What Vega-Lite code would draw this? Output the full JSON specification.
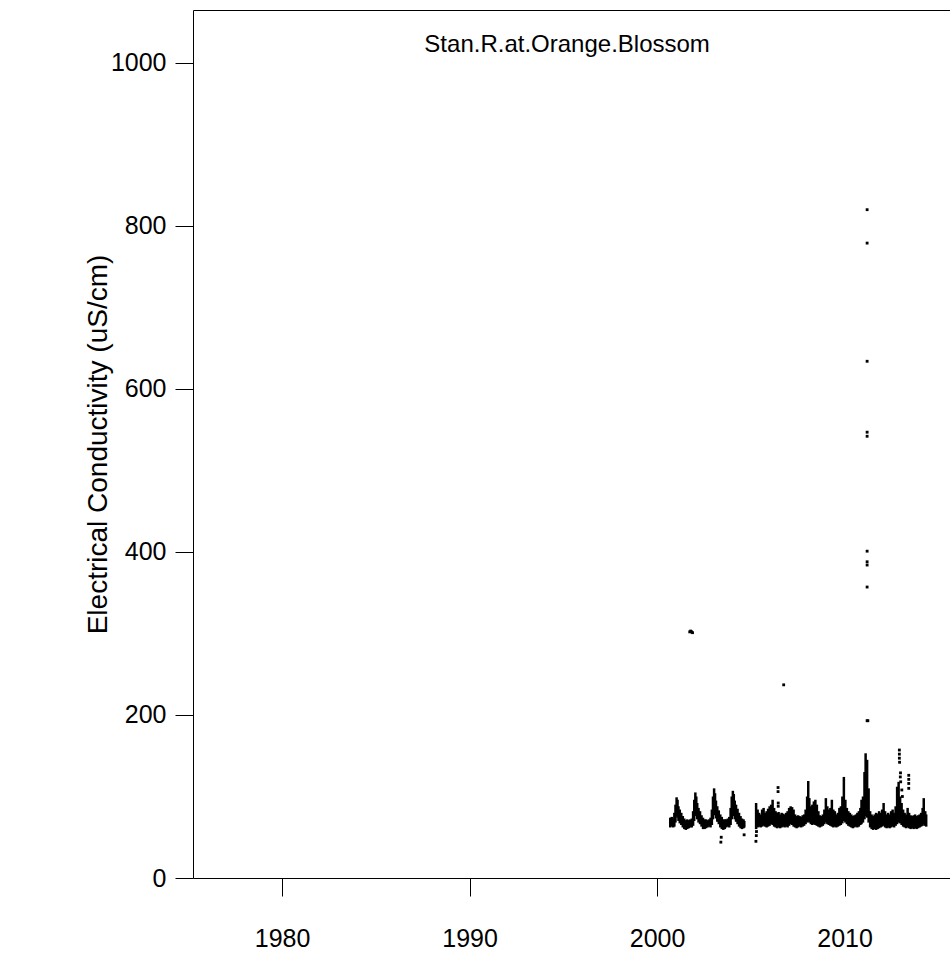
{
  "$schema": "https://vega.github.io/schema/vega-lite/v6.json",
  "autosize": {"type": "none"},
  "width": 757,
  "height": 868,
  "padding": {"left": 193, "top": 10, "right": 0, "bottom": 78},
  "background": "white",
  "config": {"view": {"stroke": null}, "font": "Liberation Sans"},
  "datasets": {
    "band": [
      {"t":2000.70,"lo":62,"hi":74},{"t":2000.78,"lo":63,"hi":75},{"t":2000.86,"lo":62,"hi":73},{"t":2000.92,"lo":63,"hi":80},
      {"t":2000.98,"lo":68,"hi":90},{"t":2001.04,"lo":76,"hi":99},{"t":2001.09,"lo":74,"hi":96},{"t":2001.14,"lo":70,"hi":88},
      {"t":2001.21,"lo":67,"hi":84},{"t":2001.29,"lo":65,"hi":80},{"t":2001.37,"lo":62,"hi":76},{"t":2001.45,"lo":60,"hi":73},
      {"t":2001.53,"lo":59,"hi":71},{"t":2001.61,"lo":60,"hi":72},{"t":2001.69,"lo":61,"hi":71},{"t":2001.77,"lo":62,"hi":72},
      {"t":2001.85,"lo":62,"hi":73},{"t":2001.92,"lo":64,"hi":82},{"t":2001.98,"lo":70,"hi":96},{"t":2002.04,"lo":78,"hi":105},
      {"t":2002.09,"lo":76,"hi":100},{"t":2002.14,"lo":72,"hi":92},{"t":2002.21,"lo":68,"hi":86},{"t":2002.29,"lo":66,"hi":82},
      {"t":2002.37,"lo":63,"hi":77},{"t":2002.45,"lo":60,"hi":74},{"t":2002.53,"lo":60,"hi":72},{"t":2002.61,"lo":61,"hi":72},
      {"t":2002.69,"lo":62,"hi":71},{"t":2002.77,"lo":63,"hi":72},{"t":2002.85,"lo":62,"hi":74},{"t":2002.92,"lo":65,"hi":84},
      {"t":2002.98,"lo":72,"hi":100},{"t":2003.04,"lo":80,"hi":110},{"t":2003.09,"lo":77,"hi":104},{"t":2003.14,"lo":73,"hi":95},
      {"t":2003.21,"lo":69,"hi":88},{"t":2003.29,"lo":66,"hi":83},{"t":2003.37,"lo":62,"hi":78},{"t":2003.45,"lo":60,"hi":75},
      {"t":2003.53,"lo":59,"hi":72},{"t":2003.61,"lo":60,"hi":72},{"t":2003.69,"lo":62,"hi":72},{"t":2003.77,"lo":63,"hi":73},
      {"t":2003.85,"lo":62,"hi":75},{"t":2003.92,"lo":65,"hi":86},{"t":2003.98,"lo":72,"hi":100},{"t":2004.04,"lo":79,"hi":107},
      {"t":2004.09,"lo":76,"hi":103},{"t":2004.14,"lo":72,"hi":95},{"t":2004.21,"lo":69,"hi":90},{"t":2004.29,"lo":66,"hi":85},
      {"t":2004.37,"lo":63,"hi":80},{"t":2004.45,"lo":61,"hi":76},{"t":2004.53,"lo":60,"hi":73},{"t":2004.61,"lo":61,"hi":72},
      {"t":2004.65,"lo":62,"hi":70},
      {"t":2005.28,"lo":60,"hi":92},{"t":2005.36,"lo":62,"hi":84},{"t":2005.44,"lo":63,"hi":80},{"t":2005.52,"lo":62,"hi":78},
      {"t":2005.60,"lo":63,"hi":84},{"t":2005.68,"lo":64,"hi":86},{"t":2005.76,"lo":63,"hi":80},{"t":2005.84,"lo":62,"hi":82},
      {"t":2005.92,"lo":63,"hi":85},{"t":2006.00,"lo":64,"hi":88},{"t":2006.08,"lo":66,"hi":90},{"t":2006.16,"lo":65,"hi":96},
      {"t":2006.24,"lo":63,"hi":86},{"t":2006.32,"lo":62,"hi":82},{"t":2006.40,"lo":61,"hi":80},{"t":2006.48,"lo":62,"hi":81},
      {"t":2006.56,"lo":61,"hi":78},{"t":2006.64,"lo":62,"hi":80},{"t":2006.72,"lo":63,"hi":79},{"t":2006.80,"lo":62,"hi":78},
      {"t":2006.88,"lo":63,"hi":80},{"t":2006.96,"lo":62,"hi":82},{"t":2007.04,"lo":64,"hi":86},{"t":2007.12,"lo":66,"hi":88},
      {"t":2007.20,"lo":65,"hi":87},{"t":2007.28,"lo":63,"hi":84},{"t":2007.36,"lo":62,"hi":78},{"t":2007.44,"lo":61,"hi":76},
      {"t":2007.52,"lo":62,"hi":77},{"t":2007.60,"lo":63,"hi":76},{"t":2007.68,"lo":62,"hi":75},{"t":2007.76,"lo":63,"hi":77},
      {"t":2007.84,"lo":64,"hi":78},{"t":2007.92,"lo":66,"hi":84},{"t":2008.00,"lo":68,"hi":100},{"t":2008.06,"lo":70,"hi":119},
      {"t":2008.12,"lo":68,"hi":98},{"t":2008.20,"lo":66,"hi":88},{"t":2008.28,"lo":65,"hi":90},{"t":2008.36,"lo":66,"hi":94},
      {"t":2008.44,"lo":65,"hi":96},{"t":2008.52,"lo":64,"hi":90},{"t":2008.60,"lo":63,"hi":82},{"t":2008.68,"lo":62,"hi":77},
      {"t":2008.76,"lo":63,"hi":76},{"t":2008.84,"lo":64,"hi":78},{"t":2008.92,"lo":66,"hi":84},{"t":2009.00,"lo":68,"hi":98},
      {"t":2009.08,"lo":66,"hi":88},{"t":2009.16,"lo":65,"hi":84},{"t":2009.24,"lo":64,"hi":86},{"t":2009.32,"lo":63,"hi":96},
      {"t":2009.40,"lo":62,"hi":84},{"t":2009.48,"lo":63,"hi":82},{"t":2009.56,"lo":62,"hi":78},{"t":2009.64,"lo":63,"hi":80},
      {"t":2009.72,"lo":64,"hi":86},{"t":2009.80,"lo":65,"hi":88},{"t":2009.88,"lo":67,"hi":100},{"t":2009.96,"lo":70,"hi":124},
      {"t":2010.04,"lo":68,"hi":96},{"t":2010.12,"lo":66,"hi":86},{"t":2010.20,"lo":64,"hi":82},{"t":2010.28,"lo":63,"hi":80},
      {"t":2010.36,"lo":62,"hi":78},{"t":2010.44,"lo":61,"hi":76},{"t":2010.52,"lo":62,"hi":77},{"t":2010.60,"lo":63,"hi":78},
      {"t":2010.68,"lo":62,"hi":80},{"t":2010.76,"lo":63,"hi":82},{"t":2010.84,"lo":65,"hi":86},{"t":2010.90,"lo":66,"hi":96},
      {"t":2010.98,"lo":68,"hi":100},{"t":2011.06,"lo":72,"hi":130},{"t":2011.12,"lo":76,"hi":153},{"t":2011.20,"lo":74,"hi":145},
      {"t":2011.28,"lo":68,"hi":110},{"t":2011.36,"lo":62,"hi":82},{"t":2011.44,"lo":60,"hi":78},{"t":2011.52,"lo":59,"hi":76},
      {"t":2011.60,"lo":60,"hi":78},{"t":2011.68,"lo":59,"hi":80},{"t":2011.76,"lo":60,"hi":79},{"t":2011.84,"lo":61,"hi":82},
      {"t":2011.92,"lo":62,"hi":80},{"t":2012.00,"lo":63,"hi":84},{"t":2012.08,"lo":64,"hi":92},{"t":2012.16,"lo":62,"hi":82},
      {"t":2012.24,"lo":61,"hi":78},{"t":2012.32,"lo":62,"hi":80},{"t":2012.40,"lo":61,"hi":78},{"t":2012.48,"lo":62,"hi":82},
      {"t":2012.56,"lo":63,"hi":84},{"t":2012.64,"lo":62,"hi":80},{"t":2012.72,"lo":64,"hi":88},{"t":2012.80,"lo":66,"hi":112},
      {"t":2012.88,"lo":68,"hi":118},{"t":2012.96,"lo":67,"hi":100},{"t":2013.04,"lo":65,"hi":92},{"t":2013.12,"lo":63,"hi":84},
      {"t":2013.20,"lo":62,"hi":80},{"t":2013.28,"lo":61,"hi":78},{"t":2013.36,"lo":62,"hi":86},{"t":2013.44,"lo":61,"hi":80},
      {"t":2013.52,"lo":60,"hi":77},{"t":2013.60,"lo":61,"hi":76},{"t":2013.68,"lo":60,"hi":77},{"t":2013.76,"lo":61,"hi":78},
      {"t":2013.84,"lo":60,"hi":76},{"t":2013.92,"lo":61,"hi":77},{"t":2014.00,"lo":62,"hi":78},{"t":2014.08,"lo":63,"hi":80},
      {"t":2014.16,"lo":64,"hi":86},{"t":2014.22,"lo":66,"hi":98},{"t":2014.30,"lo":64,"hi":82},{"t":2014.35,"lo":63,"hi":78}
    ],
    "spikes": [
      {"t":2001.74,"v":302},{"t":2001.79,"v":303},{"t":2001.84,"v":302},{"t":2001.89,"v":301},
      {"t":2003.40,"v":44},{"t":2003.42,"v":50},{"t":2004.64,"v":53},
      {"t":2005.27,"v":45},{"t":2005.29,"v":52},{"t":2005.30,"v":57},
      {"t":2006.45,"v":111},{"t":2006.45,"v":106},{"t":2006.46,"v":92},{"t":2006.46,"v":88},
      {"t":2006.75,"v":237},
      {"t":2011.20,"v":820},{"t":2011.20,"v":779},{"t":2011.20,"v":634},{"t":2011.20,"v":547},{"t":2011.20,"v":542},
      {"t":2011.20,"v":401},{"t":2011.20,"v":388},{"t":2011.20,"v":384},{"t":2011.20,"v":357},{"t":2011.20,"v":193},{"t":2011.24,"v":193},
      {"t":2012.92,"v":157},{"t":2012.92,"v":152},{"t":2012.92,"v":147},{"t":2012.93,"v":142},
      {"t":2012.98,"v":129},{"t":2012.97,"v":124},{"t":2012.99,"v":118},
      {"t":2013.42,"v":126},{"t":2013.42,"v":121},{"t":2013.42,"v":116},{"t":2013.42,"v":110},
      {"t":2013.05,"v":108},{"t":2013.08,"v":100}
    ],
    "label": [{"name": "Stan.R.at.Orange.Blossom"}]
  },
  "resolve": {"axis": {"x": "independent"}},
  "layer": [
    {
      "data": {"name": "band"},
      "mark": {"type": "rule", "strokeWidth": 2.5, "color": "black"},
      "encoding": {
        "x": {"field": "t", "type": "quantitative",
          "scale": {"domain": [1975.25, 2015.62], "nice": false, "zero": false},
          "axis": {"orient": "bottom", "values": [1980, 1990, 2000, 2010], "format": "d", "title": null, "grid": false,
            "domainColor": "black", "tickColor": "black", "tickSize": 18, "labelPadding": 30,
            "labelFontSize": 25, "labelColor": "black", "labelFont": "Liberation Sans"}},
        "y": {"field": "lo", "type": "quantitative",
          "scale": {"domain": [0, 1065], "nice": false, "zero": true},
          "axis": {"values": [0, 200, 400, 600, 800, 1000], "format": "d", "title": "Electrical Conductivity (uS/cm)", "grid": false,
            "domainColor": "black", "tickColor": "black", "tickSize": 18, "labelPadding": 9,
            "labelFontSize": 25, "labelColor": "black", "labelFont": "Liberation Sans",
            "titleFontSize": 28, "titleFontWeight": "normal", "titleColor": "black", "titleFont": "Liberation Sans", "titlePadding": -2}},
        "y2": {"field": "hi"}
      }
    },
    {
      "data": {"name": "spikes"},
      "mark": {"type": "square", "size": 8, "color": "black", "opacity": 1},
      "encoding": {
        "x": {"field": "t", "type": "quantitative", "axis": null},
        "y": {"field": "v", "type": "quantitative", "title": "Electrical Conductivity (uS/cm)"}
      }
    },
    {
      "data": {"name": "label"},
      "mark": {"type": "text", "fontSize": 24, "font": "Liberation Sans", "color": "black", "align": "center", "baseline": "middle"},
      "encoding": {
        "text": {"field": "name"},
        "x": {"datum": 1995.2, "type": "quantitative",
          "axis": {"orient": "top", "labels": false, "ticks": false, "domain": true, "domainColor": "black", "title": null, "grid": false}},
        "y": {"datum": 1022, "type": "quantitative", "title": "Electrical Conductivity (uS/cm)"}
      }
    }
  ]
}
